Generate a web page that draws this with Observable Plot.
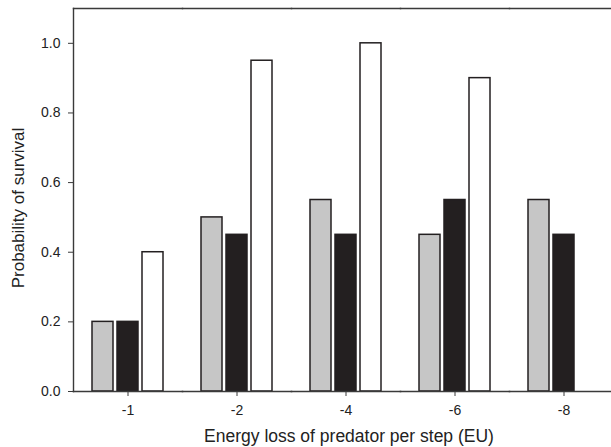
<!DOCTYPE html>
<html>
<head>
<meta charset="utf-8">
<script src="https://cdn.jsdelivr.net/npm/d3@7"></script>
<script src="https://cdn.jsdelivr.net/npm/@observablehq/plot@0.6"></script>
<style>
  html, body { margin: 0; padding: 0; background: #fff; overflow: hidden; }
</style>
</head>
<body>
<div id="chart"></div>
<script>
const categories = ["-1", "-2", "-4", "-6", "-8"];
const seriesNames = ["Series 1", "Series 2", "Series 3"];
const series1 = [0.20, 0.50, 0.55, 0.45, 0.55];
const series2 = [0.20, 0.45, 0.45, 0.55, 0.45];
const series3 = [0.40, 0.95, 1.00, 0.90, null];
const yTicks = [0, 0.2, 0.4, 0.6, 0.8, 1.0];

const allSeries = [series1, series2, series3];
const data = [];
categories.forEach((c, i) => {
  allSeries.forEach((s, j) => {
    if (s[i] != null) data.push({cat: c, series: seriesNames[j], value: s[i]});
  });
});

const font = "'Liberation Sans', Arial, Helvetica, sans-serif";
const axisColor = "#3a3a3a";

const chart = Plot.plot({
  width: 611,
  height: 447,
  marginLeft: 72,
  marginRight: 0,
  marginTop: 8,
  marginBottom: 56,
  style: {fontFamily: font, fontSize: "14px", color: "#222", background: "#fff", overflow: "visible"},
  fx: {domain: categories, range: [72, 619.5], padding: 0, axis: null, label: null},
  x: {domain: seriesNames, paddingInner: 0.156, paddingOuter: 0.711, axis: null},
  y: {domain: [0, 1.1], axis: null},
  color: {domain: seriesNames, range: ["#c6c6c6", "#231f20", "#ffffff"]},
  marks: [
    Plot.barY(data, {fx: "cat", x: "series", y: "value", fill: "series", stroke: "#231f20", strokeWidth: 1.5}),
    Plot.frame({anchor: "left", facetAnchor: "left", stroke: axisColor, strokeWidth: 1.4}),
    Plot.frame({anchor: "top", stroke: axisColor, strokeWidth: 1.4}),
    Plot.frame({anchor: "bottom", stroke: axisColor, strokeWidth: 1.6}),
    Plot.axisY({
      ticks: yTicks, tickFormat: ".1f", tickSize: 5, tickPadding: 8,
      stroke: axisColor, fontSize: 14, label: null
    }),
    Plot.text(["Probability of survival"], {
      facet: "super", frameAnchor: "left", rotate: -90, dx: -55, dy: 8,
      textAnchor: "middle", lineAnchor: "middle",
      fontSize: 17, fill: "#222"
    }),
    Plot.axisFx({
      anchor: "bottom", tickSize: 5, tickPadding: 9, stroke: axisColor, fontSize: 14,
      label: null
    }),
    Plot.text(["Energy loss of predator per step (EU)"], {
      facet: "super", frameAnchor: "bottom", dy: 45, dx: 3,
      textAnchor: "middle", lineAnchor: "middle",
      fontSize: 17.5, fill: "#222"
    })
  ]
});

document.getElementById("chart").appendChild(chart);
</script>
</body>
</html>
